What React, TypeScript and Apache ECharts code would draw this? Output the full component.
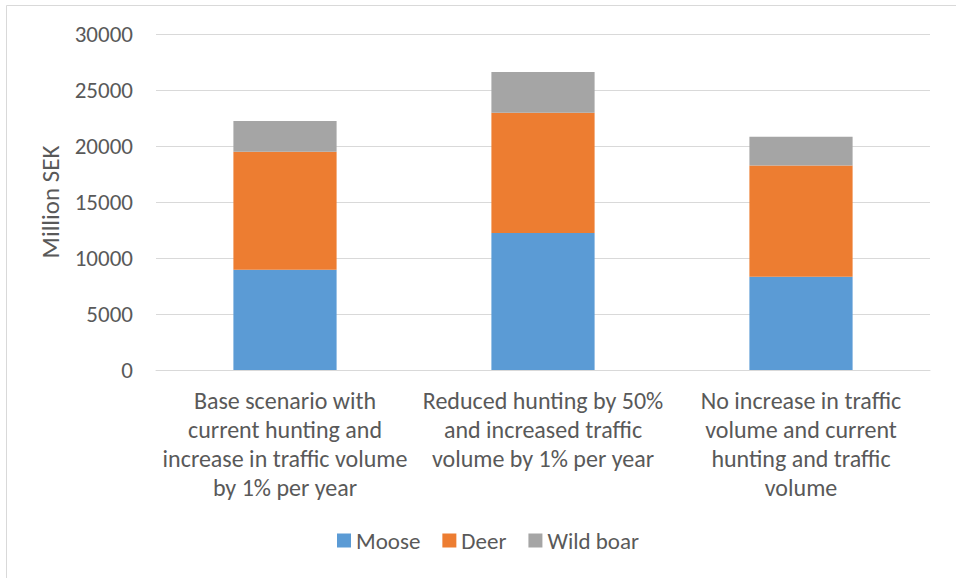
import React, { useEffect, useRef } from "react";
import * as echarts from "echarts";

const categories = [
  "Base scenario with\ncurrent hunting and\nincrease in traffic volume\nby 1% per year",
  "Reduced hunting by 50%\nand increased traffic\nvolume by 1% per year",
  "No increase in traffic\nvolume and current\nhunting and traffic\nvolume",
];
const moose = [8950, 12230, 8330];
const deer = [10540, 10740, 9940];
const wildBoar = [2740, 3630, 2560];
const seriesNames = ["Moose", "Deer", "Wild boar"];
const colors = ["#5B9BD5", "#ED7D31", "#A5A5A5"];

const FONT = "Calibri, Carlito, Lato, sans-serif";
const TEXT = "#595959";

export default function App() {
  const ref = useRef<HTMLDivElement>(null);
  useEffect(() => {
    document.body.style.margin = "0";
    const chart = echarts.init(ref.current!, null, { renderer: "svg" });
    const data = [moose, deer, wildBoar];
    chart.setOption({
      animation: false,
      backgroundColor: "#ffffff",
      textStyle: { fontFamily: FONT, color: TEXT },
      graphic: [
        {
          type: "rect",
          shape: { x: 6.5, y: 5.5, width: 980, height: 600 },
          style: { fill: "none", stroke: "#d9d9d9", lineWidth: 1 },
          silent: true,
        },
      ],
      grid: { left: 156, right: 26, top: 34, bottom: 208, containLabel: false },
      legend: {
        top: 524,
        left: 332,
        itemWidth: 14,
        itemHeight: 14,
        itemGap: 22,
        icon: "rect",
        textStyle: { fontFamily: FONT, fontSize: 23, color: TEXT },
        data: seriesNames,
      },
      xAxis: {
        type: "category",
        data: categories,
        axisLine: { lineStyle: { color: "#d9d9d9", width: 1 } },
        axisTick: { show: false },
        axisLabel: {
          interval: 0,
          margin: 16,
          fontFamily: FONT,
          fontSize: 24,
          lineHeight: 29,
          color: TEXT,
          align: "center",
        },
      },
      yAxis: {
        type: "value",
        min: 0,
        max: 30000,
        interval: 5000,
        name: "Million SEK",
        nameLocation: "middle",
        nameGap: 93,
        nameTextStyle: { fontFamily: FONT, fontSize: 25, color: TEXT },
        axisLine: { show: false },
        axisTick: { show: false },
        splitLine: { lineStyle: { color: "#d9d9d9", width: 1 } },
        axisLabel: {
          margin: 23,
          fontFamily: FONT,
          fontSize: 23,
          color: TEXT,
          formatter: (v: number) => String(v),
        },
      },
      series: seriesNames.map((name, i) => ({
        name,
        type: "bar",
        stack: "total",
        barWidth: "40%",
        itemStyle: { color: colors[i] },
        data: data[i],
      })),
    });
    return () => chart.dispose();
  }, []);
  return <div ref={ref} style={{ width: 956, height: 578 }} />;
}
